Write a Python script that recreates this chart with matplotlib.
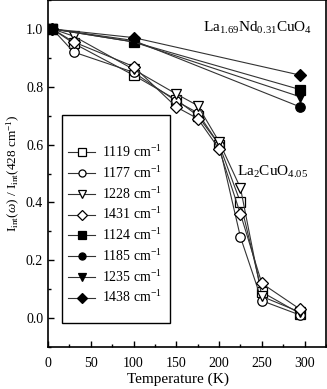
import matplotlib
matplotlib.use('Agg')
import matplotlib.pyplot as plt
from matplotlib.ticker import MultipleLocator, FormatStrFormatter
from matplotlib.patches import Rectangle

plt.rcParams['font.family'] = ['Liberation Serif', 'DejaVu Serif']
plt.rcParams['mathtext.fontset'] = 'custom'
plt.rcParams['mathtext.rm'] = 'Liberation Serif'
plt.rcParams['mathtext.it'] = 'Liberation Serif:italic'

# La2CuO4.05 (open symbols)
T_la = [5, 30, 100, 150, 175, 200, 225, 250, 295]
la_1119 = [1.0, 0.95, 0.84, 0.755, 0.70, 0.60, 0.40, 0.09, 0.015]
la_1177 = [1.0, 0.92, 0.85, 0.75, 0.71, 0.60, 0.28, 0.06, 0.01]
la_1228 = [1.0, 0.975, 0.86, 0.775, 0.735, 0.61, 0.45, 0.075, 0.02]
la_1431 = [1.0, 0.955, 0.87, 0.73, 0.69, 0.585, 0.36, 0.12, 0.03]

# La1.69Nd0.31CuO4 (filled symbols)
T_nd = [5, 100, 295]
nd_1124 = [1.0, 0.955, 0.79]
nd_1185 = [1.0, 0.96, 0.73]
nd_1235 = [1.0, 0.955, 0.765]
nd_1438 = [1.0, 0.97, 0.84]

series = [
    (T_la, la_1119, 's', 'white', '1119 cm$^{-1}$'),
    (T_la, la_1177, 'o', 'white', '1177 cm$^{-1}$'),
    (T_la, la_1228, 'v', 'white', '1228 cm$^{-1}$'),
    (T_la, la_1431, 'D', 'white', '1431 cm$^{-1}$'),
    (T_nd, nd_1124, 's', 'black', '1124 cm$^{-1}$'),
    (T_nd, nd_1185, 'o', 'black', '1185 cm$^{-1}$'),
    (T_nd, nd_1235, 'v', 'black', '1235 cm$^{-1}$'),
    (T_nd, nd_1438, 'D', 'black', '1438 cm$^{-1}$'),
]

fig = plt.figure(figsize=(3.27, 3.89), dpi=100)
ax = fig.add_axes([48/327, 42/389, 278/327, 347/389])

for T, v, m, fc, lab in series:
    ms = 6.3 if m == 'D' else 6.8
    ax.plot(T, v, color='#333333', lw=0.8, marker=m, ms=ms,
            mfc=fc, mec='black', mew=0.9, label=lab)

ax.set_xlim(0, 325)
ax.set_ylim(-0.1, 1.1)
ax.xaxis.set_major_locator(MultipleLocator(50))
ax.xaxis.set_minor_locator(MultipleLocator(25))
ax.yaxis.set_major_locator(MultipleLocator(0.2))
ax.yaxis.set_minor_locator(MultipleLocator(0.1))
ax.yaxis.set_major_formatter(FormatStrFormatter('%.1f'))
ax.tick_params(which='both', direction='in', labelsize=10, width=1.0)
ax.tick_params(which='major', length=4)
ax.tick_params(which='minor', length=2.5)
ax.tick_params(axis='x', pad=7.5)
for s in ax.spines.values():
    s.set_linewidth(1.2)

ax.set_xlabel('Temperature (K)', fontsize=11, labelpad=1.5, x=0.468)
ax.set_ylabel(r'I$_{\rm int}$($\omega$) / I$_{\rm int}$(428 cm$^{-1}$)', fontsize=9.5, labelpad=3)

ax.text(0.95, 0.92, r'La$_{1.69}$Nd$_{0.31}$CuO$_4$', transform=ax.transAxes,
        ha='right', va='center', fontsize=11)
ax.text(0.68, 0.505, r'La$_2$CuO$_{4.05}$', transform=ax.transAxes,
        ha='left', va='center', fontsize=11)

# legend frame drawn separately (it has extra space at the top)
ax.add_patch(Rectangle((0.05, 0.069), 0.389, 0.6, transform=ax.transAxes,
                       fill=True, facecolor='white', edgecolor='black',
                       lw=1.0, zorder=4))
leg = ax.legend(loc='center left', bbox_to_anchor=(0.072, 0.352),
                borderaxespad=0, borderpad=0, frameon=False, fontsize=10,
                handlelength=1.95, handletextpad=0.5, labelspacing=0.35,
                markerscale=0.75)
leg.set_zorder(5)

fig.savefig('out.png', dpi=100)
